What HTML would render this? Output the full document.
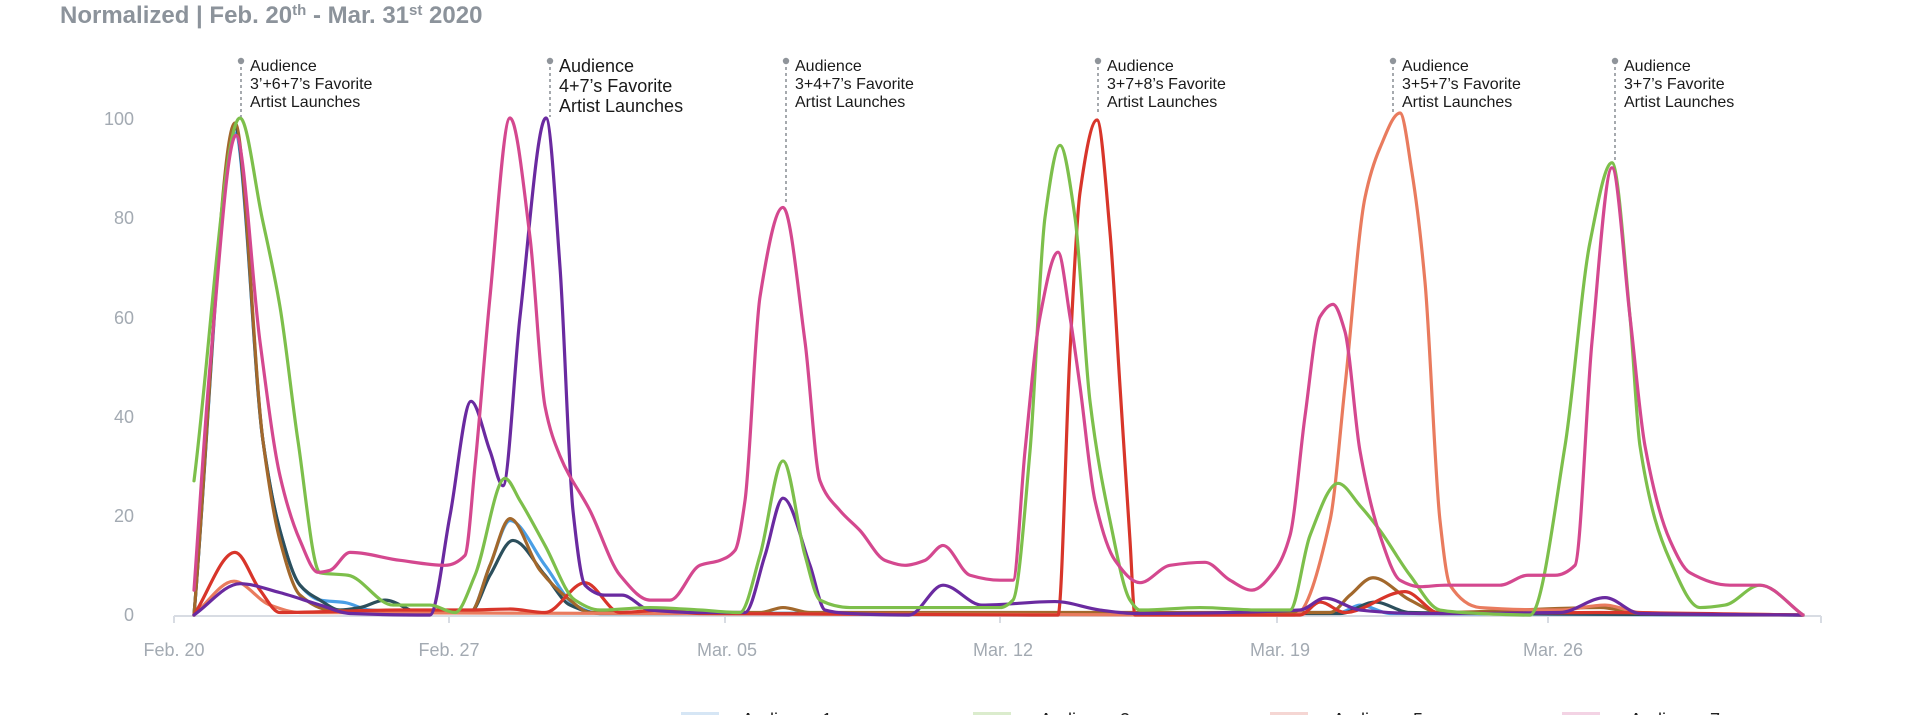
<!DOCTYPE html>
<html><head><meta charset="utf-8">
<style>
html,body{margin:0;padding:0;background:#fff;width:1920px;height:715px;overflow:hidden;}
svg{display:block;font-family:"Liberation Sans",Arial,sans-serif;}
</style></head>
<body>
<svg id="c" width="1920" height="715" viewBox="0 0 1920 715" xmlns="http://www.w3.org/2000/svg">
<text x="60" y="23" font-size="24" font-weight="bold" fill="#8c939b">Normalized | Feb. 20<tspan font-size="15" dy="-8">th</tspan><tspan dy="8"> - Mar. 31</tspan><tspan font-size="15" dy="-8">st</tspan><tspan dy="8"> 2020</tspan></text>
<g font-size="18" fill="#a3aab2" text-anchor="end">
<text x="134" y="125">100</text>
<text x="134" y="224">80</text>
<text x="134" y="324">60</text>
<text x="134" y="423">40</text>
<text x="134" y="522">20</text>
<text x="134" y="621">0</text>
</g>
<g stroke="#d8dce3" stroke-width="2" fill="none">
<line x1="174" y1="616" x2="1821" y2="616"/>
<line x1="174" y1="616" x2="174" y2="623"/>
<line x1="449" y1="616" x2="449" y2="623"/>
<line x1="725" y1="616" x2="725" y2="623"/>
<line x1="1000" y1="616" x2="1000" y2="623"/>
<line x1="1277" y1="616" x2="1277" y2="623"/>
<line x1="1548" y1="616" x2="1548" y2="623"/>
<line x1="1821" y1="616" x2="1821" y2="623"/>
</g>
<g font-size="18" fill="#a3aab2" text-anchor="middle">
<text x="174" y="656">Feb. 20</text>
<text x="449" y="656">Feb. 27</text>
<text x="727" y="656">Mar. 05</text>
<text x="1003" y="656">Mar. 12</text>
<text x="1280" y="656">Mar. 19</text>
<text x="1553" y="656">Mar. 26</text>
</g>
<g id="series" fill="none" stroke-width="3.2" stroke-linejoin="round" stroke-linecap="round"></g>
<g id="ann" fill="#1a1a1a"></g>
<g font-size="18" fill="#222">
<rect x="681" y="712" width="38" height="6" fill="#d6e6f5"/><text x="742" y="726">Audience 1</text>
<rect x="973" y="712" width="38" height="6" fill="#dbeccd"/><text x="1040" y="726">Audience 3</text>
<rect x="1270" y="712" width="38" height="6" fill="#f5d6d3"/><text x="1333" y="726">Audience 5</text>
<rect x="1562" y="712" width="38" height="6" fill="#f3d3e4"/><text x="1630" y="726">Audience 7</text>
</g>
</svg>
<script>
var NS="http://www.w3.org/2000/svg";
function Y(v){return 615-4.97*v;}
function mono(pts){
 var n=pts.length,x=[],y=[],i;
 for(i=0;i<n;i++){x.push(pts[i][0]);y.push(Y(pts[i][1]));}
 var d=[],m=[];
 for(i=0;i<n-1;i++)d.push((y[i+1]-y[i])/(x[i+1]-x[i]));
 m[0]=d[0];m[n-1]=d[n-2];
 for(i=1;i<n-1;i++){ if(d[i-1]*d[i]<=0)m[i]=0; else { var w1=2*(x[i+1]-x[i])+(x[i]-x[i-1]),w2=(x[i+1]-x[i])+2*(x[i]-x[i-1]); m[i]=(w1+w2)/(w1/d[i-1]+w2/d[i]);} }
 var s="M"+x[0]+","+y[0];
 for(i=0;i<n-1;i++){var h=(x[i+1]-x[i])/3;
  s+="C"+(x[i]+h)+","+(y[i]+m[i]*h)+" "+(x[i+1]-h)+","+(y[i+1]-m[i+1]*h)+" "+x[i+1]+","+y[i+1];}
 return s;
}
var S=[
["#4a9fe6",[[194,0],[235,97],[263,35],[280,17],[300,6],[320,3],[345,2.5],[370,1],[470,0.5],[490,10],[510,19],[545,10],[575,2],[600,0.3],[1340,0.5],[1360,2],[1390,0.3],[1803,0]]],
["#2c4f5c",[[194,0],[235,98],[263,35],[280,17],[300,6],[320,3],[340,1],[360,1.5],[385,3],[420,0.5],[470,0.5],[490,8],[513,15],[545,8],[570,2],[600,0.3],[1340,0.3],[1375,2.6],[1410,0.5],[1803,0]]],
["#a2682c",[[194,0],[235,99],[263,35],[280,15],[300,4],[330,1],[400,0.5],[470,0.5],[490,10],[510,19.4],[540,9],[570,3],[590,0.5],[760,0.5],[783,1.5],[810,0.5],[1330,0.5],[1350,4],[1373,7.5],[1410,3],[1440,0.5],[1600,1.5],[1640,0.3],[1803,0]]],
["#e97b5e",[[194,0],[234,6.8],[270,2],[300,0.5],[1295,0],[1330,19],[1345,46],[1365,84],[1380,94],[1400,101],[1412,89],[1425,67],[1440,19],[1450,6],[1480,1.5],[1560,1],[1605,2],[1640,0.5],[1803,0]]],
["#d8352a",[[194,0],[235,12.6],[260,5],[280,0.5],[400,1],[470,1],[510,1.2],[545,0.5],[585,6.5],[620,0.5],[665,1],[700,0.3],[1050,0],[1058,0],[1070,53],[1080,85],[1097,99.6],[1110,77],[1120,46],[1130,15],[1135,0],[1300,0],[1320,2.6],[1345,0.5],[1405,4.7],[1440,0.3],[1600,0.5],[1803,0]]],
["#6a2aa0",[[194,0],[240,6.3],[280,4.5],[320,2],[350,0.3],[430,0],[450,20],[471,43],[490,33],[503,26],[520,60],[546,100],[560,70],[573,21],[585,6],[605,4],[622,4],[650,1],[700,0.5],[745,0.5],[765,12],[783,23.5],[810,10],[825,1],[850,0.3],[909,0],[943,6],[982,2],[1055,2.7],[1100,1],[1135,0.3],[1300,1],[1325,3.4],[1360,1],[1420,0.3],[1560,0.5],[1605,3.5],[1640,0.3],[1803,0]]],
["#7dbf4b",[[194,27],[240,100],[262,80],[280,62],[298,35],[320,8.5],[348,8],[393,2],[430,2],[455,0.5],[475,8],[505,27.5],[520,23],[545,14],[575,3],[600,1],[650,1.5],[700,1],[740,0.5],[760,12],[783,31],[805,12],[820,3],[850,1.5],[900,1.5],[960,1.5],[1000,1.5],[1013,3],[1030,33],[1045,80],[1060,94.5],[1075,80],[1090,43],[1110,19],[1130,3],[1140,1],[1200,1.5],[1260,1],[1290,1],[1310,16],[1338,26.5],[1360,22],[1380,17],[1410,8],[1440,1],[1480,0.3],[1530,0],[1565,34],[1590,75],[1612,91],[1630,60],[1640,34],[1670,11],[1700,1.5],[1725,2],[1760,6],[1803,0]]],
["#d4488f",[[194,5],[210,50],[236,96.5],[260,55],[280,28],[300,15],[318,8.6],[330,9],[350,12.6],[400,11],[445,10],[465,12],[475,30],[490,64],[510,100],[530,76],[545,42],[560,32],[590,21],[620,8],[650,3],[670,3],[700,10],[720,11],[735,13],[745,23],[760,64],[783,82],[805,55],[820,27],[840,21],[860,17],[885,11],[905,10],[925,11],[943,14],[970,8],[1000,7],[1013,7],[1025,33],[1040,60],[1058,73],[1070,60],[1080,46],[1095,23],[1115,11],[1140,6.5],[1170,10],[1205,10.6],[1230,7],[1252,5],[1275,9],[1290,16],[1305,40],[1320,60],[1333,62.5],[1345,57],[1360,33],[1380,16],[1400,7],[1420,5.7],[1445,6],[1500,6],[1528,8],[1555,8],[1575,10],[1592,55],[1612,90],[1630,60],[1645,34],[1670,15],[1690,8.5],[1730,6],[1760,6],[1803,0]]]
];
var g=document.getElementById("series");
S.forEach(function(s){var p=document.createElementNS(NS,"path");p.setAttribute("d",mono(s[1]));p.setAttribute("stroke",s[0]);g.appendChild(p);});
var A=[
[241,117,["Audience","3\u2019+6+7\u2019s Favorite","Artist Launches"],16,18],
[550,117,["Audience","4+7\u2019s Favorite","Artist Launches"],18,20],
[786,203,["Audience","3+4+7\u2019s Favorite","Artist Launches"],16,18],
[1098,112,["Audience","3+7+8\u2019s Favorite","Artist Launches"],16,18],
[1393,112,["Audience","3+5+7\u2019s Favorite","Artist Launches"],16,18],
[1615,160,["Audience","3+7\u2019s Favorite","Artist Launches"],16,18]
];
var ag=document.getElementById("ann");
A.forEach(function(a){
 var l=document.createElementNS(NS,"line");l.setAttribute("x1",a[0]);l.setAttribute("x2",a[0]);l.setAttribute("y1",61);l.setAttribute("y2",a[1]);
 l.setAttribute("stroke","#8f949a");l.setAttribute("stroke-width","1.6");l.setAttribute("stroke-dasharray","3,3");ag.appendChild(l);
 var c=document.createElementNS(NS,"circle");c.setAttribute("cx",a[0]);c.setAttribute("cy",61);c.setAttribute("r",3.2);c.setAttribute("fill","#8f949a");ag.appendChild(c);
 a[2].forEach(function(t,i){var tx=document.createElementNS(NS,"text");tx.setAttribute("x",a[0]+9);tx.setAttribute("y",(a[3]>16?72:71)+i*a[4]);tx.setAttribute("font-size",a[3]);tx.textContent=t;ag.appendChild(tx);});
});
</script>
</body></html>
